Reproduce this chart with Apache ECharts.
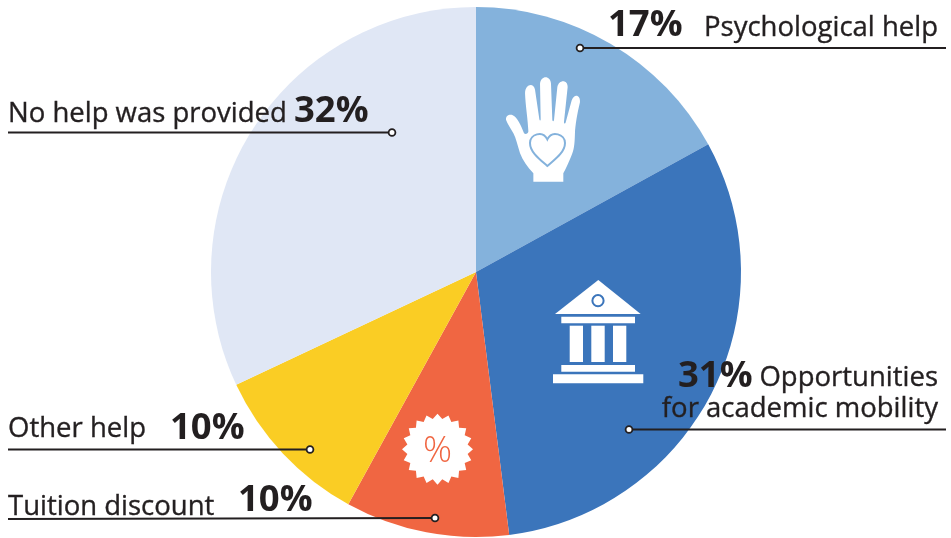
<!DOCTYPE html>
<html>
<head>
<meta charset="utf-8">
<style>html,body{margin:0;padding:0;background:#fff}#c{width:951px;height:538px}</style>
<script src="https://cdn.jsdelivr.net/npm/echarts@6/dist/echarts.min.js"></script>
</head>
<body>
<div id="c"></div>
<script>
const categories = ['Psychological help', 'Opportunities for academic mobility', 'Tuition discount', 'Other help', 'No help was provided'];
const values = [17, 31, 10, 10, 32];
const colors = ['#84b2dc', '#3b75bb', '#f06642', '#facd24', '#e0e7f5'];

const INK = '#231f20';
const FONT = '"Open Sans", sans-serif';
const pct = i => values[i] + '%';

function txt(s, x, y, size, weight, align, fill, z) {
  const ink = fill || INK;
  return { type: 'text', z: z || 110, silent: true, x, y: y - 0.8 * size,
    style: { text: s, fill: ink, stroke: weight === 400 ? ink : null, lineWidth: weight === 400 ? 0.35 : 0,
      font: `${weight} ${size}px ${FONT}`, align: align || 'left', verticalAlign: 'top' } };
}
function leader(x1, x2, y1, y2, dotX, dotY) {
  return [
    { type: 'line', z: 105, silent: true, shape: { x1, y1, x2, y2 }, style: { stroke: INK, lineWidth: 1.9 } },
    { type: 'circle', z: 106, silent: true, shape: { cx: dotX, cy: dotY, r: 3.4 }, style: { fill: '#fff', stroke: INK, lineWidth: 1.8 } }
  ];
}
function rect(x, y, width, height) {
  return { type: 'rect', z: 100, silent: true, shape: { x, y, width, height }, style: { fill: '#fff' } };
}
function badge(cx, cy, rOut, rIn, n) {
  const pts = [];
  for (let i = 0; i < n * 2; i++) {
    const a = Math.PI * i / n, r = i % 2 ? rIn : rOut;
    pts.push([cx + r * Math.sin(a), cy - r * Math.cos(a)]);
  }
  return { type: 'polygon', z: 100, silent: true, shape: { points: pts }, style: { fill: '#fff' } };
}

const handPath = 'M100 335 L100 310 C82 290 68 272 60 250 C52 225 48 205 40 190 C32 175 22 162 18 150 C16 138 28 132 38 136 C52 142 62 165 72 190 C76 194 84 192 85 185 C84 150 76 105 75 70 C76 40 102 38 105 60 L118 148 C119 153 122 153 122 148 L120 42 C122 16 152 16 153 42 L157 150 C158 155 161 155 162 150 L172 52 C176 28 204 28 203 52 L192 156 C192 162 196 162 197 158 L215 92 C222 70 242 74 240 97 C232 130 226 165 225 190 C224 225 222 240 214 258 C206 278 198 295 190 310 L190 335 Z';
const heartPath = 'M142 288 C118 268 90 248 90 222 C90 198 128 184 142 212 C156 184 195 198 195 222 C195 248 166 268 142 288 Z';

const graphics = [
  // building icon
  { type: 'polygon', z: 100, silent: true, shape: { points: [[555, 314], [598.3, 280], [640.7, 314]] }, style: { fill: '#fff' } },
  { type: 'circle', z: 101, silent: true, shape: { cx: 598, cy: 300.7, r: 5.6 }, style: { fill: '#fff', stroke: colors[1], lineWidth: 2 } },
  rect(561.3, 316.7, 73.7, 6.6),
  rect(569.7, 325.7, 13.3, 36.3),
  rect(591.3, 325.7, 13.4, 36.3),
  rect(613, 325.7, 13.3, 36.3),
  rect(561.3, 365, 73.7, 6.7),
  rect(553, 374.3, 90.3, 9),
  // discount badge
  badge(437.5, 449.2, 35.5, 30.5, 20),
  txt('%', 437.5, 463, 36, 300, 'center', colors[2], 101),
  // leaders
  ...leader(580, 946, 48, 48, 580, 48),
  ...leader(629, 946, 429.5, 429.5, 629, 429.5),
  ...leader(435, 8, 518, 519, 435, 518),
  ...leader(310, 8, 449.5, 449.5, 310, 449.5),
  ...leader(392, 8, 132.5, 132.5, 392, 132.5),
  // labels
  txt(pct(0), 608, 36, 36.5, 700),
  txt(categories[0], 938, 36, 27.5, 400, 'right'),
  txt(pct(1), 678, 387, 36.5, 700),
  txt('Opportunities', 938, 386, 27.5, 400, 'right'),
  txt('for academic mobility', 938, 417, 27.5, 400, 'right'),
  txt(pct(2), 238, 511, 36.5, 700),
  txt(categories[2], 8, 515, 27.5, 400),
  txt(pct(3), 170, 439, 36.5, 700),
  txt(categories[3], 8, 437, 27.5, 400),
  txt(pct(4), 294, 122, 36.5, 700),
  txt(categories[4], 8, 122, 27.5, 400)
];

const chart = echarts.init(document.getElementById('c'), null, { renderer: 'canvas' });
chart.setOption({
  animation: false,
  backgroundColor: '#fff',
  series: [{
    type: 'pie',
    center: [476, 272],
    radius: [0, 265],
    startAngle: 90,
    clockwise: true,
    silent: true,
    label: { show: false },
    labelLine: { show: false },
    data: categories.map((name, i) => ({ name, value: values[i], itemStyle: { color: colors[i] } }))
  }, {
    type: 'custom',
    coordinateSystem: 'none',
    silent: true,
    z: 5,
    data: [[0]],
    renderItem: () => ({
      type: 'group',
      children: [
        { type: 'path', shape: { pathData: handPath, layout: 'cover', x: 506, y: 77.3, width: 74, height: 104.4 }, style: { fill: '#fff' } },
        { type: 'path', z2: 2, shape: { pathData: heartPath, layout: 'cover', x: 530, y: 134, width: 35, height: 32 }, style: { fill: 'none', stroke: colors[0], lineWidth: 2 } }
      ]
    })
  }],
  graphic: { elements: graphics }
});
</script>
</body>
</html>
